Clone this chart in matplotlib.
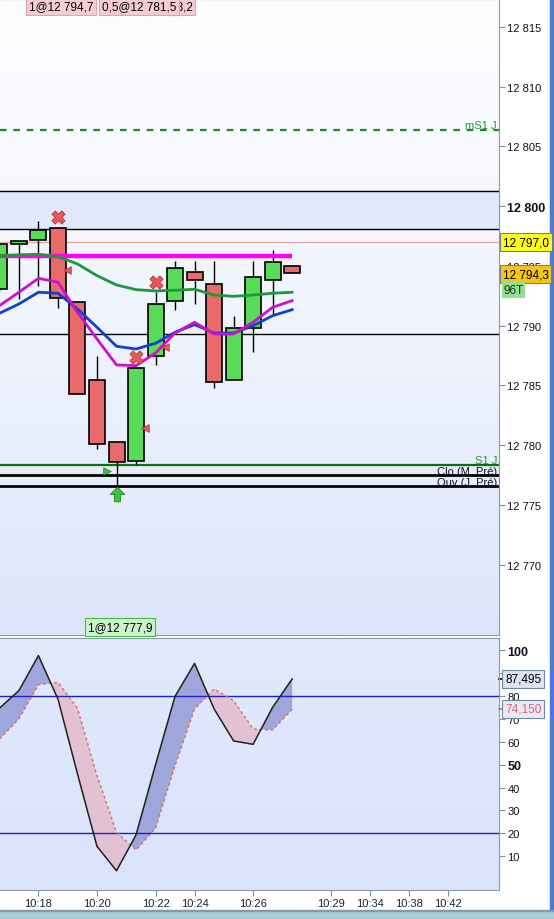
import numpy as np
import matplotlib
matplotlib.use('Agg')
import matplotlib.pyplot as plt
from matplotlib.colors import LinearSegmentedColormap
from matplotlib.patches import Rectangle

plt.rcParams['font.family'] = ['Liberation Sans', 'DejaVu Sans']

# 96-tick bars
bar_idx = np.arange(16)
opens = [12793.1, 12796.8, 12797.2, 12798.2, 12792.0, 12785.5, 12780.3, 12778.7,
         12787.5, 12792.1, 12794.5, 12793.5, 12785.5, 12789.8, 12793.8, 12795.0]
highs = [12796.8, 12797.1, 12798.8, 12798.2, 12792.0, 12787.5, 12780.3, 12786.5,
         12792.8, 12795.4, 12795.4, 12795.4, 12790.8, 12795.4, 12796.3, 12795.0]
lows = [12792.8, 12792.2, 12793.3, 12791.5, 12784.3, 12779.7, 12776.6, 12778.4,
        12786.7, 12791.3, 12791.8, 12784.8, 12785.5, 12787.8, 12790.8, 12794.4]
closes = [12796.8, 12797.1, 12798.0, 12792.3, 12784.3, 12780.1, 12778.6, 12786.5,
          12791.8, 12794.8, 12793.8, 12785.3, 12789.8, 12794.1, 12795.3, 12794.4]

ma_green = [12795.86, 12795.92, 12795.98, 12795.78, 12795.17, 12794.19, 12793.41, 12793.02,
            12792.91, 12792.97, 12793.05, 12792.57, 12792.46, 12792.57, 12792.72, 12792.80]
ma_blue = [12791.04, 12791.82, 12792.80, 12792.72, 12791.40, 12789.87, 12788.28, 12788.05,
           12788.53, 12789.45, 12790.09, 12789.39, 12789.39, 12790.00, 12790.84, 12791.34]
ma_magenta = [12791.68, 12792.80, 12793.97, 12793.64, 12791.12, 12788.89, 12786.72, 12786.66,
              12787.72, 12789.39, 12790.29, 12789.31, 12789.31, 12790.29, 12791.54, 12792.10]

# stochastic
stoch_k = [74.7, 82.4, 97.7, 78.7, 46.0, 14.3, 3.6, 19.3,
           50.0, 79.9, 94.3, 74.4, 60.4, 58.9, 75.1, 87.5]
stoch_d = [61.2, 70.0, 85.0, 86.0, 74.7, 45.2, 20.4, 12.7,
           22.2, 49.6, 74.4, 83.1, 78.0, 65.6, 65.2, 74.2]

# levels
mS1_J = 12806.41
band_hi, band_lo = 12801.31, 12798.10
last_ref = 12796.99
magenta_lvl = 12795.82
mid_lvl = 12789.30
S1_J = 12778.31
clo_m = 12777.55
ouv_j = 12776.58

sell_x = [3, 8, 7]
sell_y = [12799.07, 12793.64, 12787.36]
tri_x = [3.47, 8.49, 7.46]
tri_y = [12794.67, 12788.2, 12781.42]

tick_pos = [2, 5, 8, 10, 13, 17, 19, 21, 23]
tick_labels = ['10:18', '10:20', '10:22', '10:24', '10:26', '10:29', '10:34', '10:38', '10:42']
price_ticks = [12770, 12775, 12780, 12785, 12790, 12795, 12800, 12805, 12810, 12815]
stoch_ticks = [10, 20, 30, 40, 50, 60, 70, 80, 90, 100]

W, H = 554, 920
fig = plt.figure(figsize=(W / 100, H / 100), dpi=100)
fig.patch.set_facecolor('white')

def fx(x):
    return x / W

def fy(y):
    return 1 - y / H

ax = fig.add_axes([0, fy(636), fx(499), fy(0) - fy(636)])
ax2 = fig.add_axes([0, fy(891), fx(499), fy(639) - fy(891)])

grad = np.linspace(0, 1, 256).reshape(-1, 1)
cm1 = LinearSegmentedColormap.from_list('bg1', ['#fdfdff', '#f0f4fd', '#dce5fa'])
ax.imshow(grad, extent=[0, 1, 0, 1], transform=ax.transAxes, aspect='auto', cmap=cm1,
          origin='upper', zorder=0)
cm2 = LinearSegmentedColormap.from_list('bg2', ['#e1e9fc', '#dae3fa'])
ax2.imshow(grad, extent=[0, 1, 0, 1], transform=ax2.transAxes, aspect='auto', cmap=cm2,
           origin='upper', zorder=0)

# price levels
ax.axhspan(band_lo, band_hi, color='#e0e8fb', zorder=1)
ax.axhline(band_hi, color='black', lw=1, zorder=2)
ax.axhline(band_lo, color='black', lw=1, zorder=2)
ax.axhline(mS1_J, color='#1f8a1f', lw=1.6, ls=(0, (3, 3)), zorder=2)
ax.axhline(last_ref, color='#f0a0a0', lw=0.9, zorder=2)
ax.axhline(mid_lvl, color='black', lw=1, zorder=2)
ax.axhline(S1_J, color='#0f6f0f', lw=1.6, zorder=2)
ax.axhline(clo_m, color='black', lw=2, zorder=2)
ax.axhline(ouv_j, color='black', lw=2, zorder=2)

# candles
o = np.array(opens)
c = np.array(closes)
up = c >= o
ax.vlines(bar_idx, lows, highs, color='black', lw=1, zorder=3)
ax.bar(bar_idx[up], (c - o)[up], bottom=o[up], width=0.82, color='#58dc58',
       edgecolor='black', lw=1.2, zorder=4)
ax.bar(bar_idx[~up], (o - c)[~up], bottom=c[~up], width=0.82, color='#e86a6a',
       edgecolor='black', lw=1.2, zorder=4)

ax.plot([bar_idx[0] - 0.1, bar_idx[-1]], [magenta_lvl, magenta_lvl], color='#ff00ff', lw=3.2,
        solid_capstyle='butt', zorder=5)
ax.plot(bar_idx, ma_green, color='#1a9a3a', lw=2, zorder=6)
ax.plot(bar_idx, ma_blue, color='#1040d0', lw=2, zorder=6)
ax.plot(bar_idx, ma_magenta, color='#cc10cc', lw=2, zorder=6)

ax.scatter(sell_x, sell_y, marker='X', s=90, color='#e85858', edgecolor='#c03030', lw=0.6, zorder=7)
ax.scatter(tri_x, tri_y, marker='<', s=30, color='#e85858', edgecolor='#b03030', lw=0.5, zorder=7)
ax.scatter([5.53], [12777.84], marker='>', s=30, color='#40c040', edgecolor='#208020', lw=0.5, zorder=7)
arrow = [(0, 1), (1, 0), (0.4, 0), (0.4, -1), (-0.4, -1), (-0.4, 0), (-1, 0), (0, 1)]
ax.scatter([6.0], [12775.95], marker=arrow, s=110, color='#40c040', edgecolor='#208020', lw=0.6, zorder=7)

ax.text(0.996, mS1_J, 'mS1 J', transform=ax.get_yaxis_transform(), ha='right', va='bottom',
        fontsize=8, color='#2a9a2a', zorder=8)
ax.text(0.996, S1_J, 'S1 J', transform=ax.get_yaxis_transform(), ha='right', va='bottom',
        fontsize=8, color='#2a9a2a', zorder=8)
ax.text(0.996, clo_m - 0.1, 'Clo (M, Pré)', transform=ax.get_yaxis_transform(), ha='right',
        va='bottom', fontsize=8, color='#101020', zorder=8)
ax.text(0.996, ouv_j - 0.1, 'Ouv (J, Pré)', transform=ax.get_yaxis_transform(), ha='right',
        va='bottom', fontsize=8, color='#101020', zorder=8)

# stochastic panel
k = np.array(stoch_k)
d = np.array(stoch_d)
ax2.fill_between(bar_idx, k, d, where=k >= d, interpolate=True, color='#9ea6dc', lw=0, zorder=2)
ax2.fill_between(bar_idx, k, d, where=k < d, interpolate=True, color='#e2c2d2', lw=0, zorder=2)
ax2.axhline(80, color='#2020c8', lw=1, zorder=3)
ax2.axhline(20, color='#2020c8', lw=1, zorder=3)
ax2.plot(bar_idx, d, color='#e06868', lw=1, ls=(0, (2, 2)), zorder=4)
ax2.plot(bar_idx, k, color='#202020', lw=1.1, zorder=5)

# small marks on the scale for last values
ytr = ax2.get_yaxis_transform()
ax2.plot([1.0, 1.012], [stoch_k[-1], stoch_k[-1]], transform=ytr, clip_on=False, color='black', lw=1.2)
ax2.plot([1.0, 1.012], [stoch_d[-1], stoch_d[-1]], transform=ytr, clip_on=False, color='#e06070', lw=1.2)

# axes
ax.set_xlim(0.03, 25.6)
ax2.set_xlim(0.03, 25.6)
ax.set_ylim(12764.12, 12817.34)
ax2.set_ylim(-4.8, 105.4)

for a in (ax, ax2):
    a.yaxis.tick_right()
    a.tick_params(axis='y', direction='out', length=4, color='#8090a0', labelsize=8, pad=2,
                  labelcolor='#101020')
    a.spines['left'].set_visible(False)
    for s in ('right', 'bottom', 'top'):
        a.spines[s].set_color('#8a9aaa')
ax.spines['top'].set_color('#607080')

ax.set_yticks(price_ticks)
ax.set_yticklabels([f'{p // 1000} {p % 1000:03d}' for p in price_ticks])
ax.set_xticks([])
ax2.set_yticks(stoch_ticks)
ax2.set_yticklabels([str(v) for v in stoch_ticks])
for lbl in ax.get_yticklabels():
    if lbl.get_text() == '12 800':
        lbl.set_fontweight('bold')
        lbl.set_fontsize(9)
for lbl in ax2.get_yticklabels():
    if lbl.get_text() in ('100', '50'):
        lbl.set_fontweight('bold')
        lbl.set_fontsize(9)

ax2.set_xticks(tick_pos)
ax2.set_xticklabels(tick_labels)
ax2.tick_params(axis='x', direction='out', length=4, color='#8090a0', labelsize=8, pad=2,
                labelcolor='#202030')

# value boxes on the right scale
def box(x, y, s, fc, ec='#708090', color='black', pad=0.22):
    fig.text(fx(x), fy(y), s, ha='left', va='center', fontsize=8.5, color=color, zorder=10,
             bbox=dict(boxstyle=f'square,pad={pad}', fc=fc, ec=ec, lw=0.8))

box(503, 243, '12 797,0', '#ffff10')
box(503, 275, '12 794,3', '#f8c410')
box(503, 290.5, '96T', '#90e090', ec='#90e090', color='#203020', pad=0.1)
box(505, 680, '87,495', '#dde3f2', ec='#6a8aa0')
box(505, 710, '74,150', '#eaeaf6', ec='#6a8aa0', color='#e06070')

# order labels
box(170, 7, '68,2', '#f6ccd4', ec='#e8a0a8')
box(29, 7, '1@12 794,7', '#f6ccd4', ec='#e8a0a8')
box(102, 7, '0,5@12 781,5', '#f6ccd4', ec='#e8a0a8')
box(88, 628, '1@12 777,9', '#cdf2cd', ec='#40c040')

# frame decorations
fig.patches.append(Rectangle((fx(550), fy(912)), fx(2.5), fy(0) - fy(912), transform=fig.transFigure,
                             color='#4a7ad8', zorder=1))
fig.patches.append(Rectangle((0, 0), 1, 8 / H, transform=fig.transFigure, color='#a9ccd6', zorder=1))
fig.patches.append(Rectangle((0, fy(912)), 1, 1 / H, transform=fig.transFigure, color='#8898a8', zorder=1))

fig.savefig('out.png', dpi=100)
